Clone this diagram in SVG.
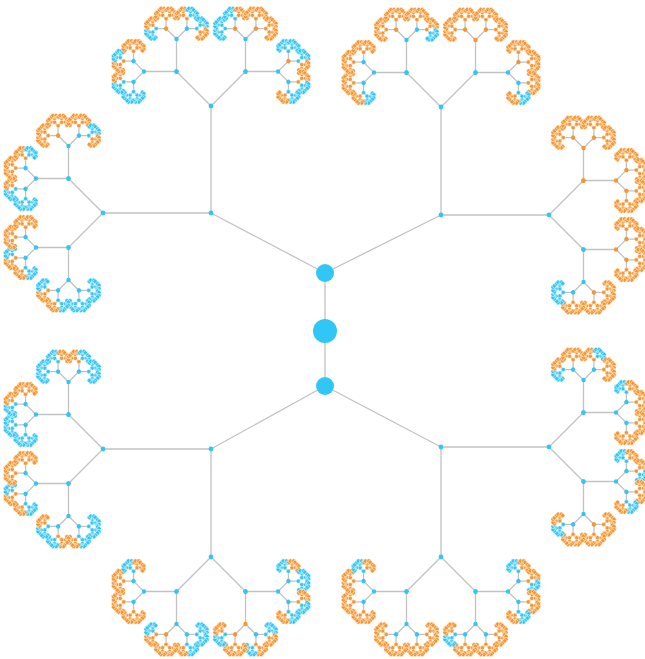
<svg xmlns="http://www.w3.org/2000/svg" xmlns:xlink="http://www.w3.org/1999/xlink" width="645" height="659" viewBox="0 0 645 659">
<style>
.e{stroke:#c2c2c2;stroke-width:1.3;fill:none}
.o{fill:#f7952f}
.b{fill:#30c6f6}
.d{stroke:#fff;stroke-width:.45}
</style>
<defs>
<g id="t10"><path class="e" d="M-1-1L0 0L1-1"/><circle class="d" r="2.1"/><circle class="d" cx="-1" cy="-1" r="2.1"/><circle class="d" cx="1" cy="-1" r="2.1"/></g>
<g id="t9"><path class="e" d="M-1.6-1.6L0 0L1.6-1.6"/><circle class="d" r="2.1"/><use href="#t10" transform="translate(-1.6 -1.6) rotate(-45)"/><use href="#t10" transform="translate(1.6 -1.6) rotate(45)"/></g>
<g id="t8"><path class="e" d="M-2.6-2.6L0 0L2.6-2.6"/><circle class="d" r="2.1"/><use href="#t9" transform="translate(-2.6 -2.6) rotate(-45)"/><use href="#t9" transform="translate(2.6 -2.6) rotate(45)"/></g>
<g id="t7"><path class="e" d="M-3.6-3.6L0 0L3.6-3.6"/><circle class="d" r="2.1"/><use href="#t8" transform="translate(-3.6 -3.6) rotate(-45)"/><use href="#t8" transform="translate(3.6 -3.6) rotate(45)"/></g>
<g id="to" class="o"><use href="#t7"/></g>
<g id="tb" class="b"><use href="#t7"/></g>
<g id="tm"><path class="e" d="M-3.6-3.6L0 0L3.6-3.6"/><circle class="b d" r="2.1"/><use href="#t8" class="b" transform="translate(-3.6 -3.6) rotate(-45)"/><use href="#t8" class="o" transform="translate(3.6 -3.6) rotate(45)"/></g>
<g id="tn"><path class="e" d="M-3.6-3.6L0 0L3.6-3.6"/><circle class="o d" r="2.1"/><use href="#t8" class="o" transform="translate(-3.6 -3.6) rotate(-45)"/><use href="#t8" class="b" transform="translate(3.6 -3.6) rotate(45)"/></g>
<g id="t6"><path class="e" d="M-6.93-6.93L0 0L6.93-6.93"/><circle r="2.2"/><use href="#t7" transform="translate(-6.93 -6.93) rotate(-45)"/><use href="#t7" transform="translate(6.93 -6.93) rotate(45)"/></g>
<g id="t5"><path class="e" d="M-10.4-10.4L0 0L10.4-10.4"/><circle r="2.2"/><use href="#t6" transform="translate(-10.4 -10.4) rotate(-45)"/><use href="#t6" transform="translate(10.4 -10.4) rotate(45)"/></g>
</defs>
<rect width="645" height="659" fill="#fff"/>
<g id="edges" class="e">
<path d="M325 331V273M325 331V386"/>
<path d="M325 273L211 213M325 273L441 215M325 386L211 449M325 386L441 447"/>
<path d="M211 213V106M211 213H103M441 215V107M441 215H549M211 449H103M211 449V557M441 447H549M441 447V557"/>
</g>
<g id="root"><circle class="b" cx="325" cy="331" r="12"/></g>
<g id="n1"><circle class="b" cx="325" cy="273" r="9"/></g>
<g id="n2"><circle class="b" cx="325" cy="386" r="9"/></g>
<g id="na"><circle class="b" cx="211" cy="213" r="2.4"/></g>
<g id="nb"><circle class="b" cx="441" cy="215" r="2.4"/></g>
<g id="nc"><circle class="b" cx="211" cy="449" r="2.4"/></g>
<g id="nd"><circle class="b" cx="441" cy="447" r="2.4"/></g>

<g id="p1" transform="translate(211 106)">
<path class="e" d="M-34.5-34.5L0 0L34.5-34.5"/><circle class="b" r="2.4"/>
<g transform="translate(-34.5 -34.5) rotate(-45)"><path class="e" d="M-23-23L0 0L23-23"/><circle class="b" r="2.4"/>
<g transform="translate(-23 -23) rotate(-45)"><path class="e" d="M-10.4-10.4L0 0L10.4-10.4"/><circle class="b" r="2.2"/><g transform="translate(-10.4 -10.4) rotate(-45)"><path class="e" d="M-6.93-6.93L0 0L6.93-6.93"/><circle class="b" r="2.2"/><use href="#tb" transform="translate(-6.93 -6.93) rotate(-45)"/><use href="#tm" transform="translate(6.93 -6.93) rotate(45)"/></g><g transform="translate(10.4 -10.4) rotate(45)"><path class="e" d="M-6.93-6.93L0 0L6.93-6.93"/><circle class="b" r="2.2"/><use href="#tn" transform="translate(-6.93 -6.93) rotate(-45)"/><use href="#to" transform="translate(6.93 -6.93) rotate(45)"/></g></g>
<g transform="translate(23 -23) rotate(45)"><path class="e" d="M-10.4-10.4L0 0L10.4-10.4"/><circle class="b" r="2.2"/><g transform="translate(-10.4 -10.4) rotate(-45)"><path class="e" d="M-6.93-6.93L0 0L6.93-6.93"/><circle class="o" r="2.2"/><use href="#tm" transform="translate(-6.93 -6.93) rotate(-45)"/><use href="#to" transform="translate(6.93 -6.93) rotate(45)"/></g><g transform="translate(10.4 -10.4) rotate(45)"><path class="e" d="M-6.93-6.93L0 0L6.93-6.93"/><circle class="b" r="2.2"/><use href="#tn" transform="translate(-6.93 -6.93) rotate(-45)"/><use href="#tm" transform="translate(6.93 -6.93) rotate(45)"/></g></g>
</g>
<g transform="translate(34.5 -34.5) rotate(45)"><path class="e" d="M-23-23L0 0L23-23"/><circle class="b" r="2.4"/>
<g transform="translate(-23 -23) rotate(-45)"><path class="e" d="M-10.4-10.4L0 0L10.4-10.4"/><circle class="b" r="2.2"/><g transform="translate(-10.4 -10.4) rotate(-45)"><path class="e" d="M-6.93-6.93L0 0L6.93-6.93"/><circle class="o" r="2.2"/><use href="#tb" transform="translate(-6.93 -6.93) rotate(-45)"/><use href="#tm" transform="translate(6.93 -6.93) rotate(45)"/></g><g transform="translate(10.4 -10.4) rotate(45)"><path class="e" d="M-6.93-6.93L0 0L6.93-6.93"/><circle class="o" r="2.2"/><use href="#to" transform="translate(-6.93 -6.93) rotate(-45)"/><use href="#to" transform="translate(6.93 -6.93) rotate(45)"/></g></g>
<g transform="translate(23 -23) rotate(45)"><path class="e" d="M-10.4-10.4L0 0L10.4-10.4"/><circle class="b" r="2.2"/><g transform="translate(-10.4 -10.4) rotate(-45)"><path class="e" d="M-6.93-6.93L0 0L6.93-6.93"/><circle class="o" r="2.2"/><use href="#tb" transform="translate(-6.93 -6.93) rotate(-45)"/><use href="#tm" transform="translate(6.93 -6.93) rotate(45)"/></g><g transform="translate(10.4 -10.4) rotate(45)"><path class="e" d="M-6.93-6.93L0 0L6.93-6.93"/><circle class="b" r="2.2"/><use href="#tn" transform="translate(-6.93 -6.93) rotate(-45)"/><use href="#tm" transform="translate(6.93 -6.93) rotate(45)"/></g></g>
</g>
</g>

<g id="p2" transform="translate(103 213) rotate(-90)">
<path class="e" d="M-34.5-34.5L0 0L34.5-34.5"/><circle class="b" r="2.4"/>
<g transform="translate(-34.5 -34.5) rotate(-45)"><path class="e" d="M-23-23L0 0L23-23"/><circle class="b" r="2.4"/>
<g transform="translate(-23 -23) rotate(-45)"><path class="e" d="M-10.4-10.4L0 0L10.4-10.4"/><circle class="b" r="2.2"/><g transform="translate(-10.4 -10.4) rotate(-45)"><path class="e" d="M-6.93-6.93L0 0L6.93-6.93"/><circle class="b" r="2.2"/><use href="#tb" transform="translate(-6.93 -6.93) rotate(-45)"/><use href="#tb" transform="translate(6.93 -6.93) rotate(45)"/></g><g transform="translate(10.4 -10.4) rotate(45)"><path class="e" d="M-6.93-6.93L0 0L6.93-6.93"/><circle class="b" r="2.2"/><use href="#tm" transform="translate(-6.93 -6.93) rotate(-45)"/><use href="#tn" transform="translate(6.93 -6.93) rotate(45)"/></g></g>
<g transform="translate(23 -23) rotate(45)"><path class="e" d="M-10.4-10.4L0 0L10.4-10.4"/><circle class="b" r="2.2"/><g transform="translate(-10.4 -10.4) rotate(-45)"><path class="e" d="M-6.93-6.93L0 0L6.93-6.93"/><circle class="b" r="2.2"/><use href="#tm" transform="translate(-6.93 -6.93) rotate(-45)"/><use href="#tn" transform="translate(6.93 -6.93) rotate(45)"/></g><g transform="translate(10.4 -10.4) rotate(45)"><path class="e" d="M-6.93-6.93L0 0L6.93-6.93"/><circle class="b" r="2.2"/><use href="#to" transform="translate(-6.93 -6.93) rotate(-45)"/><use href="#to" transform="translate(6.93 -6.93) rotate(45)"/></g></g>
</g>
<g transform="translate(34.5 -34.5) rotate(45)"><path class="e" d="M-23-23L0 0L23-23"/><circle class="b" r="2.4"/>
<g transform="translate(-23 -23) rotate(-45)"><path class="e" d="M-10.4-10.4L0 0L10.4-10.4"/><circle class="b" r="2.2"/><g transform="translate(-10.4 -10.4) rotate(-45)"><path class="e" d="M-6.93-6.93L0 0L6.93-6.93"/><circle class="b" r="2.2"/><use href="#tb" transform="translate(-6.93 -6.93) rotate(-45)"/><use href="#tm" transform="translate(6.93 -6.93) rotate(45)"/></g><g transform="translate(10.4 -10.4) rotate(45)"><path class="e" d="M-6.93-6.93L0 0L6.93-6.93"/><circle class="b" r="2.2"/><use href="#to" transform="translate(-6.93 -6.93) rotate(-45)"/><use href="#tn" transform="translate(6.93 -6.93) rotate(45)"/></g></g>
<g transform="translate(23 -23) rotate(45)"><path class="e" d="M-10.4-10.4L0 0L10.4-10.4"/><circle class="b" r="2.2"/><g transform="translate(-10.4 -10.4) rotate(-45)"><path class="e" d="M-6.93-6.93L0 0L6.93-6.93"/><circle class="o" r="2.2"/><use href="#to" transform="translate(-6.93 -6.93) rotate(-45)"/><use href="#to" transform="translate(6.93 -6.93) rotate(45)"/></g><g transform="translate(10.4 -10.4) rotate(45)"><path class="e" d="M-6.93-6.93L0 0L6.93-6.93"/><circle class="b" r="2.2"/><use href="#to" transform="translate(-6.93 -6.93) rotate(-45)"/><use href="#tm" transform="translate(6.93 -6.93) rotate(45)"/></g></g>
</g>
</g>

<g id="p3" transform="translate(441 107)">
<path class="e" d="M-34.5-34.5L0 0L34.5-34.5"/><circle class="b" r="2.4"/>
<g transform="translate(-34.5 -34.5) rotate(-45)"><path class="e" d="M-23-23L0 0L23-23"/><circle class="b" r="2.4"/>
<g transform="translate(-23 -23) rotate(-45)"><path class="e" d="M-10.4-10.4L0 0L10.4-10.4"/><circle class="b" r="2.2"/><g transform="translate(-10.4 -10.4) rotate(-45)"><path class="e" d="M-6.93-6.93L0 0L6.93-6.93"/><circle class="b" r="2.2"/><use href="#tm" transform="translate(-6.93 -6.93) rotate(-45)"/><use href="#to" transform="translate(6.93 -6.93) rotate(45)"/></g><g transform="translate(10.4 -10.4) rotate(45)"><path class="e" d="M-6.93-6.93L0 0L6.93-6.93"/><circle class="b" r="2.2"/><use href="#to" transform="translate(-6.93 -6.93) rotate(-45)"/><use href="#to" transform="translate(6.93 -6.93) rotate(45)"/></g></g>
<g transform="translate(23 -23) rotate(45)"><path class="e" d="M-10.4-10.4L0 0L10.4-10.4"/><circle class="b" r="2.2"/><g transform="translate(-10.4 -10.4) rotate(-45)"><path class="e" d="M-6.93-6.93L0 0L6.93-6.93"/><circle class="o" r="2.2"/><use href="#to" transform="translate(-6.93 -6.93) rotate(-45)"/><use href="#to" transform="translate(6.93 -6.93) rotate(45)"/></g><g transform="translate(10.4 -10.4) rotate(45)"><path class="e" d="M-6.93-6.93L0 0L6.93-6.93"/><circle class="b" r="2.2"/><use href="#to" transform="translate(-6.93 -6.93) rotate(-45)"/><use href="#tn" transform="translate(6.93 -6.93) rotate(45)"/></g></g>
</g>
<g transform="translate(34.5 -34.5) rotate(45)"><path class="e" d="M-23-23L0 0L23-23"/><circle class="b" r="2.4"/>
<use href="#t5" class="o" transform="translate(-23 -23) rotate(-45)"/>
<g transform="translate(23 -23) rotate(45)"><path class="e" d="M-10.4-10.4L0 0L10.4-10.4"/><circle class="b" r="2.2"/><g transform="translate(-10.4 -10.4) rotate(-45)"><path class="e" d="M-6.93-6.93L0 0L6.93-6.93"/><circle class="o" r="2.2"/><use href="#to" transform="translate(-6.93 -6.93) rotate(-45)"/><use href="#to" transform="translate(6.93 -6.93) rotate(45)"/></g><g transform="translate(10.4 -10.4) rotate(45)"><path class="e" d="M-6.93-6.93L0 0L6.93-6.93"/><circle class="b" r="2.2"/><use href="#to" transform="translate(-6.93 -6.93) rotate(-45)"/><use href="#tm" transform="translate(6.93 -6.93) rotate(45)"/></g></g>
</g>
</g>

<g id="p4" transform="translate(549 215) rotate(90)">
<path class="e" d="M-34.5-34.5L0 0L34.5-34.5"/><circle class="b" r="2.4"/>
<g transform="translate(-34.5 -34.5) rotate(-45)"><path class="e" d="M-23-23L0 0L23-23"/><circle class="o" r="2.4"/>
<use href="#t5" class="o" transform="translate(-23 -23) rotate(-45)"/>
<use href="#t5" class="o" transform="translate(23 -23) rotate(45)"/>
</g>
<g transform="translate(34.5 -34.5) rotate(45)"><path class="e" d="M-23-23L0 0L23-23"/><circle class="b" r="2.4"/>
<use href="#t5" class="o" transform="translate(-23 -23) rotate(-45)"/>
<g transform="translate(23 -23) rotate(45)"><path class="e" d="M-10.4-10.4L0 0L10.4-10.4"/><circle class="b" r="2.2"/><g transform="translate(-10.4 -10.4) rotate(-45)"><path class="e" d="M-6.93-6.93L0 0L6.93-6.93"/><circle class="o" r="2.2"/><use href="#to" transform="translate(-6.93 -6.93) rotate(-45)"/><use href="#to" transform="translate(6.93 -6.93) rotate(45)"/></g><g transform="translate(10.4 -10.4) rotate(45)"><path class="e" d="M-6.93-6.93L0 0L6.93-6.93"/><circle class="b" r="2.2"/><use href="#to" transform="translate(-6.93 -6.93) rotate(-45)"/><use href="#tb" transform="translate(6.93 -6.93) rotate(45)"/></g></g>
</g>
</g>

<g id="p5" transform="translate(103 449) rotate(-90)">
<path class="e" d="M-34.5-34.5L0 0L34.5-34.5"/><circle class="b" r="2.4"/>
<g transform="translate(-34.5 -34.5) rotate(-45)"><path class="e" d="M-23-23L0 0L23-23"/><circle class="b" r="2.4"/>
<g transform="translate(-23 -23) rotate(-45)"><path class="e" d="M-10.4-10.4L0 0L10.4-10.4"/><circle class="b" r="2.2"/><g transform="translate(-10.4 -10.4) rotate(-45)"><path class="e" d="M-6.93-6.93L0 0L6.93-6.93"/><circle class="b" r="2.2"/><use href="#tb" transform="translate(-6.93 -6.93) rotate(-45)"/><use href="#tm" transform="translate(6.93 -6.93) rotate(45)"/></g><g transform="translate(10.4 -10.4) rotate(45)"><path class="e" d="M-6.93-6.93L0 0L6.93-6.93"/><circle class="b" r="2.2"/><use href="#tn" transform="translate(-6.93 -6.93) rotate(-45)"/><use href="#tm" transform="translate(6.93 -6.93) rotate(45)"/></g></g>
<g transform="translate(23 -23) rotate(45)"><path class="e" d="M-10.4-10.4L0 0L10.4-10.4"/><circle class="b" r="2.2"/><g transform="translate(-10.4 -10.4) rotate(-45)"><path class="e" d="M-6.93-6.93L0 0L6.93-6.93"/><circle class="b" r="2.2"/><use href="#tm" transform="translate(-6.93 -6.93) rotate(-45)"/><use href="#tn" transform="translate(6.93 -6.93) rotate(45)"/></g><g transform="translate(10.4 -10.4) rotate(45)"><path class="e" d="M-6.93-6.93L0 0L6.93-6.93"/><circle class="b" r="2.2"/><use href="#to" transform="translate(-6.93 -6.93) rotate(-45)"/><use href="#to" transform="translate(6.93 -6.93) rotate(45)"/></g></g>
</g>
<g transform="translate(34.5 -34.5) rotate(45)"><path class="e" d="M-23-23L0 0L23-23"/><circle class="b" r="2.4"/>
<g transform="translate(-23 -23) rotate(-45)"><path class="e" d="M-10.4-10.4L0 0L10.4-10.4"/><circle class="b" r="2.2"/><g transform="translate(-10.4 -10.4) rotate(-45)"><path class="e" d="M-6.93-6.93L0 0L6.93-6.93"/><circle class="b" r="2.2"/><use href="#tb" transform="translate(-6.93 -6.93) rotate(-45)"/><use href="#tb" transform="translate(6.93 -6.93) rotate(45)"/></g><g transform="translate(10.4 -10.4) rotate(45)"><path class="e" d="M-6.93-6.93L0 0L6.93-6.93"/><circle class="b" r="2.2"/><use href="#tm" transform="translate(-6.93 -6.93) rotate(-45)"/><use href="#to" transform="translate(6.93 -6.93) rotate(45)"/></g></g>
<g transform="translate(23 -23) rotate(45)"><path class="e" d="M-10.4-10.4L0 0L10.4-10.4"/><circle class="b" r="2.2"/><g transform="translate(-10.4 -10.4) rotate(-45)"><path class="e" d="M-6.93-6.93L0 0L6.93-6.93"/><circle class="b" r="2.2"/><use href="#tb" transform="translate(-6.93 -6.93) rotate(-45)"/><use href="#tm" transform="translate(6.93 -6.93) rotate(45)"/></g><g transform="translate(10.4 -10.4) rotate(45)"><path class="e" d="M-6.93-6.93L0 0L6.93-6.93"/><circle class="b" r="2.2"/><use href="#tn" transform="translate(-6.93 -6.93) rotate(-45)"/><use href="#tb" transform="translate(6.93 -6.93) rotate(45)"/></g></g>
</g>
</g>

<g id="p6" transform="translate(211 557) rotate(180)">
<path class="e" d="M-34.5-34.5L0 0L34.5-34.5"/><circle class="b" r="2.4"/>
<g transform="translate(-34.5 -34.5) rotate(-45)"><path class="e" d="M-23-23L0 0L23-23"/><circle class="b" r="2.4"/>
<g transform="translate(-23 -23) rotate(-45)"><path class="e" d="M-10.4-10.4L0 0L10.4-10.4"/><circle class="b" r="2.2"/><g transform="translate(-10.4 -10.4) rotate(-45)"><path class="e" d="M-6.93-6.93L0 0L6.93-6.93"/><circle class="b" r="2.2"/><use href="#tm" transform="translate(-6.93 -6.93) rotate(-45)"/><use href="#tb" transform="translate(6.93 -6.93) rotate(45)"/></g><g transform="translate(10.4 -10.4) rotate(45)"><path class="e" d="M-6.93-6.93L0 0L6.93-6.93"/><circle class="b" r="2.2"/><use href="#tn" transform="translate(-6.93 -6.93) rotate(-45)"/><use href="#tm" transform="translate(6.93 -6.93) rotate(45)"/></g></g>
<g transform="translate(23 -23) rotate(45)"><path class="e" d="M-10.4-10.4L0 0L10.4-10.4"/><circle class="o" r="2.2"/><g transform="translate(-10.4 -10.4) rotate(-45)"><path class="e" d="M-6.93-6.93L0 0L6.93-6.93"/><circle class="b" r="2.2"/><use href="#tm" transform="translate(-6.93 -6.93) rotate(-45)"/><use href="#tn" transform="translate(6.93 -6.93) rotate(45)"/></g><g transform="translate(10.4 -10.4) rotate(45)"><path class="e" d="M-6.93-6.93L0 0L6.93-6.93"/><circle class="o" r="2.2"/><use href="#to" transform="translate(-6.93 -6.93) rotate(-45)"/><use href="#tm" transform="translate(6.93 -6.93) rotate(45)"/></g></g>
</g>
<g transform="translate(34.5 -34.5) rotate(45)"><path class="e" d="M-23-23L0 0L23-23"/><circle class="b" r="2.4"/>
<g transform="translate(-23 -23) rotate(-45)"><path class="e" d="M-10.4-10.4L0 0L10.4-10.4"/><circle class="b" r="2.2"/><g transform="translate(-10.4 -10.4) rotate(-45)"><path class="e" d="M-6.93-6.93L0 0L6.93-6.93"/><circle class="b" r="2.2"/><use href="#tb" transform="translate(-6.93 -6.93) rotate(-45)"/><use href="#tm" transform="translate(6.93 -6.93) rotate(45)"/></g><g transform="translate(10.4 -10.4) rotate(45)"><path class="e" d="M-6.93-6.93L0 0L6.93-6.93"/><circle class="o" r="2.2"/><use href="#to" transform="translate(-6.93 -6.93) rotate(-45)"/><use href="#tn" transform="translate(6.93 -6.93) rotate(45)"/></g></g>
<g transform="translate(23 -23) rotate(45)"><path class="e" d="M-10.4-10.4L0 0L10.4-10.4"/><circle class="b" r="2.2"/><g transform="translate(-10.4 -10.4) rotate(-45)"><path class="e" d="M-6.93-6.93L0 0L6.93-6.93"/><circle class="b" r="2.2"/><use href="#to" transform="translate(-6.93 -6.93) rotate(-45)"/><use href="#to" transform="translate(6.93 -6.93) rotate(45)"/></g><g transform="translate(10.4 -10.4) rotate(45)"><path class="e" d="M-6.93-6.93L0 0L6.93-6.93"/><circle class="b" r="2.2"/><use href="#to" transform="translate(-6.93 -6.93) rotate(-45)"/><use href="#tm" transform="translate(6.93 -6.93) rotate(45)"/></g></g>
</g>
</g>

<g id="p7" transform="translate(549 447) rotate(90)">
<path class="e" d="M-34.5-34.5L0 0L34.5-34.5"/><circle class="b" r="2.4"/>
<g transform="translate(-34.5 -34.5) rotate(-45)"><path class="e" d="M-23-23L0 0L23-23"/><circle class="b" r="2.4"/>
<g transform="translate(-23 -23) rotate(-45)"><path class="e" d="M-10.4-10.4L0 0L10.4-10.4"/><circle class="b" r="2.2"/><g transform="translate(-10.4 -10.4) rotate(-45)"><path class="e" d="M-6.93-6.93L0 0L6.93-6.93"/><circle class="b" r="2.2"/><use href="#tm" transform="translate(-6.93 -6.93) rotate(-45)"/><use href="#to" transform="translate(6.93 -6.93) rotate(45)"/></g><g transform="translate(10.4 -10.4) rotate(45)"><path class="e" d="M-6.93-6.93L0 0L6.93-6.93"/><circle class="b" r="2.2"/><use href="#tn" transform="translate(-6.93 -6.93) rotate(-45)"/><use href="#to" transform="translate(6.93 -6.93) rotate(45)"/></g></g>
<g transform="translate(23 -23) rotate(45)"><path class="e" d="M-10.4-10.4L0 0L10.4-10.4"/><circle class="b" r="2.2"/><g transform="translate(-10.4 -10.4) rotate(-45)"><path class="e" d="M-6.93-6.93L0 0L6.93-6.93"/><circle class="b" r="2.2"/><use href="#tm" transform="translate(-6.93 -6.93) rotate(-45)"/><use href="#to" transform="translate(6.93 -6.93) rotate(45)"/></g><g transform="translate(10.4 -10.4) rotate(45)"><path class="e" d="M-6.93-6.93L0 0L6.93-6.93"/><circle class="b" r="2.2"/><use href="#to" transform="translate(-6.93 -6.93) rotate(-45)"/><use href="#to" transform="translate(6.93 -6.93) rotate(45)"/></g></g>
</g>
<g transform="translate(34.5 -34.5) rotate(45)"><path class="e" d="M-23-23L0 0L23-23"/><circle class="b" r="2.4"/>
<g transform="translate(-23 -23) rotate(-45)"><path class="e" d="M-10.4-10.4L0 0L10.4-10.4"/><circle class="b" r="2.2"/><g transform="translate(-10.4 -10.4) rotate(-45)"><path class="e" d="M-6.93-6.93L0 0L6.93-6.93"/><circle class="b" r="2.2"/><use href="#tm" transform="translate(-6.93 -6.93) rotate(-45)"/><use href="#tn" transform="translate(6.93 -6.93) rotate(45)"/></g><g transform="translate(10.4 -10.4) rotate(45)"><path class="e" d="M-6.93-6.93L0 0L6.93-6.93"/><circle class="b" r="2.2"/><use href="#to" transform="translate(-6.93 -6.93) rotate(-45)"/><use href="#tm" transform="translate(6.93 -6.93) rotate(45)"/></g></g>
<g transform="translate(23 -23) rotate(45)"><path class="e" d="M-10.4-10.4L0 0L10.4-10.4"/><circle class="b" r="2.2"/><g transform="translate(-10.4 -10.4) rotate(-45)"><path class="e" d="M-6.93-6.93L0 0L6.93-6.93"/><circle class="o" r="2.2"/><use href="#to" transform="translate(-6.93 -6.93) rotate(-45)"/><use href="#to" transform="translate(6.93 -6.93) rotate(45)"/></g><g transform="translate(10.4 -10.4) rotate(45)"><path class="e" d="M-6.93-6.93L0 0L6.93-6.93"/><circle class="b" r="2.2"/><use href="#to" transform="translate(-6.93 -6.93) rotate(-45)"/><use href="#tm" transform="translate(6.93 -6.93) rotate(45)"/></g></g>
</g>
</g>

<g id="p8" transform="translate(441 557) rotate(180)">
<path class="e" d="M-34.5-34.5L0 0L34.5-34.5"/><circle class="b" r="2.4"/>
<g transform="translate(-34.5 -34.5) rotate(-45)"><path class="e" d="M-23-23L0 0L23-23"/><circle class="b" r="2.4"/>
<g transform="translate(-23 -23) rotate(-45)"><path class="e" d="M-10.4-10.4L0 0L10.4-10.4"/><circle class="b" r="2.2"/><g transform="translate(-10.4 -10.4) rotate(-45)"><path class="e" d="M-6.93-6.93L0 0L6.93-6.93"/><circle class="b" r="2.2"/><use href="#tm" transform="translate(-6.93 -6.93) rotate(-45)"/><use href="#tn" transform="translate(6.93 -6.93) rotate(45)"/></g><g transform="translate(10.4 -10.4) rotate(45)"><path class="e" d="M-6.93-6.93L0 0L6.93-6.93"/><circle class="b" r="2.2"/><use href="#to" transform="translate(-6.93 -6.93) rotate(-45)"/><use href="#tm" transform="translate(6.93 -6.93) rotate(45)"/></g></g>
<g transform="translate(23 -23) rotate(45)"><path class="e" d="M-10.4-10.4L0 0L10.4-10.4"/><circle class="b" r="2.2"/><g transform="translate(-10.4 -10.4) rotate(-45)"><path class="e" d="M-6.93-6.93L0 0L6.93-6.93"/><circle class="b" r="2.2"/><use href="#to" transform="translate(-6.93 -6.93) rotate(-45)"/><use href="#to" transform="translate(6.93 -6.93) rotate(45)"/></g><g transform="translate(10.4 -10.4) rotate(45)"><path class="e" d="M-6.93-6.93L0 0L6.93-6.93"/><circle class="b" r="2.2"/><use href="#to" transform="translate(-6.93 -6.93) rotate(-45)"/><use href="#tm" transform="translate(6.93 -6.93) rotate(45)"/></g></g>
</g>
<g transform="translate(34.5 -34.5) rotate(45)"><path class="e" d="M-23-23L0 0L23-23"/><circle class="b" r="2.4"/>
<g transform="translate(-23 -23) rotate(-45)"><path class="e" d="M-10.4-10.4L0 0L10.4-10.4"/><circle class="b" r="2.2"/><g transform="translate(-10.4 -10.4) rotate(-45)"><path class="e" d="M-6.93-6.93L0 0L6.93-6.93"/><circle class="b" r="2.2"/><use href="#to" transform="translate(-6.93 -6.93) rotate(-45)"/><use href="#to" transform="translate(6.93 -6.93) rotate(45)"/></g><g transform="translate(10.4 -10.4) rotate(45)"><path class="e" d="M-6.93-6.93L0 0L6.93-6.93"/><circle class="b" r="2.2"/><use href="#to" transform="translate(-6.93 -6.93) rotate(-45)"/><use href="#to" transform="translate(6.93 -6.93) rotate(45)"/></g></g>
<g transform="translate(23 -23) rotate(45)"><path class="e" d="M-10.4-10.4L0 0L10.4-10.4"/><circle class="b" r="2.2"/><g transform="translate(-10.4 -10.4) rotate(-45)"><path class="e" d="M-6.93-6.93L0 0L6.93-6.93"/><circle class="b" r="2.2"/><use href="#to" transform="translate(-6.93 -6.93) rotate(-45)"/><use href="#to" transform="translate(6.93 -6.93) rotate(45)"/></g><g transform="translate(10.4 -10.4) rotate(45)"><path class="e" d="M-6.93-6.93L0 0L6.93-6.93"/><circle class="b" r="2.2"/><use href="#to" transform="translate(-6.93 -6.93) rotate(-45)"/><use href="#tm" transform="translate(6.93 -6.93) rotate(45)"/></g></g>
</g>
</g>
</svg>
